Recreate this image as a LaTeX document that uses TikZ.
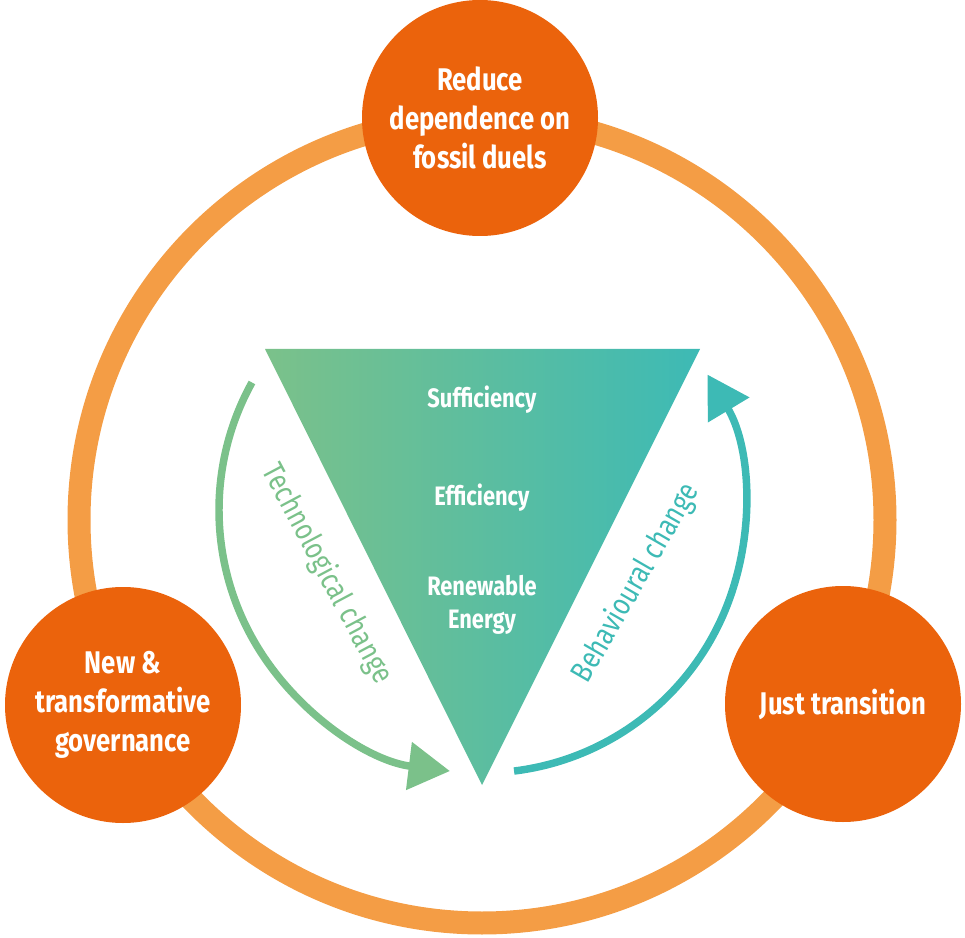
\documentclass[tikz,border=0pt]{standalone}
\usepackage{fontspec}
\setmainfont{Fira Sans}[FakeStretch=0.82]
\usetikzlibrary{arrows.meta}

\definecolor{ringorange}{RGB}{244,157,69}
\definecolor{goalorange}{RGB}{235,99,12}
\definecolor{techgreen}{RGB}{123,193,138}
\definecolor{behavteal}{RGB}{61,186,181}

\begin{document}
\begin{tikzpicture}[x=0.75pt,y=0.75pt,yscale=-1,
	goal/.style={circle, fill=goalorange, minimum size=177pt, inner sep=0pt, text=white, align=center, font=\fontsize{23.5}{29.5}\selectfont\bfseries},
	lever/.style={text=white, anchor=base, align=center, font=\fontsize{20}{24.75}\selectfont\bfseries},
	changearrow/.style={line width=5.6pt, -{Triangle[length=31pt,width=35pt]}},
	changelabel/.style={font=\fontsize{23}{26}\selectfont}]
	\useasboundingbox (0,0) rectangle (965,938);

	%Shape: Ring
	\draw [color=ringorange, line width=17.25pt] (482,520) circle [radius=403];

	%Shape: Circles
	\node [goal] (fossil) at (480,118) {Reduce\\dependence on\\fossil duels};
	\node [goal] (governance) at (123,705) {New \&\\transformative\\governance};
	\node [goal] (justtrans) at (843,704) {Just transition};

	%Shape: Triangle
	\coordinate (tl) at (265,349);
	\coordinate (tr) at (700,349);
	\coordinate (tb) at (482,785);
	\shade [left color=techgreen, right color=behavteal] (tl) -- (tr) -- (tb) -- cycle;

	% Text Node
	\node [lever] (suff) at (482,407) {Sufficiency};
	% Text Node
	\node [lever] (eff) at (482,505) {Efficiency};
	% Text Node
	\node [lever] (renew) at (482,628) {Renewable\\Energy};

	%Curve Lines
	\coordinate (hub) at (482,510);
	\draw [changearrow, color=techgreen] (hub) ++(209:263) arc [start angle=209, end angle=97, radius=263];
	\draw [changearrow, color=behavteal] (hub) ++(83:263) arc [start angle=83, end angle=-31, radius=263];

	% Text Node
	\node [changelabel, text=techgreen, rotate=-62] (techlbl) at (327,574) {Technological change};
	% Text Node
	\node [changelabel, text=behavteal, rotate=60] (behavlbl) at (636,583) {Behavioural change};
\end{tikzpicture}
\end{document}
